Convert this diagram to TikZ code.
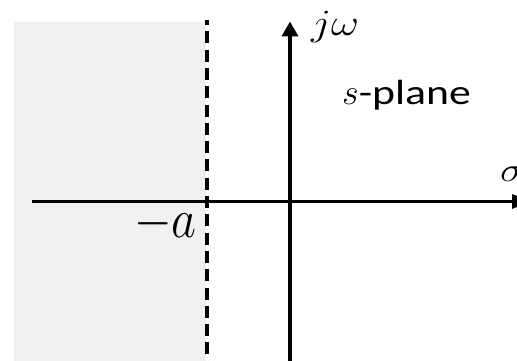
\RequirePackage{fix-cm}
\documentclass[tikz,border=0pt]{standalone}
\usepackage{fontspec}
\setmainfont{Carlito}
\usetikzlibrary{arrows.meta}
\definecolor{bgshade}{RGB}{240,240,240}
\begin{document}
\begin{tikzpicture}[x=1pt,y=-1pt,
  vaxis/.style={line width=4pt,-{Triangle[length=15pt,width=16pt]}},
  haxis/.style={line width=3pt,-{Triangle[length=19pt,width=14pt]}},
  bound/.style={line width=4pt,dash pattern=on 12pt off 6.3pt,dash phase=7pt},
  lbl/.style={inner sep=0pt,anchor=base west}]
\useasboundingbox (0,0) rectangle (517,361);
\fill[bgshade] (14,22) rectangle (206,361);
\coordinate (dtop) at (207,20);
\coordinate (dbot) at (207,361);
\draw[bound] (dtop) -- (dbot);
\coordinate (xl) at (32,201.5);
\coordinate (xr) at (531,201.5);
\coordinate (yb) at (290,361);
\coordinate (yt) at (290,21.5);
\draw[haxis] (xl) -- (xr);
\draw[vaxis] (yb) -- (yt);
\node[lbl] (jw) at (311,36) {\fontsize{37}{42}\selectfont\scalebox{1.17}[1]{$j\omega$}};
\node[lbl] (sp) at (342,105) {\fontsize{36}{40}\selectfont$s$\fontsize{35}{40}\selectfont\scalebox{1.25}[1]{-plane}};
\node[lbl] (sig) at (500,181) {\fontsize{34}{40}\selectfont\scalebox{1.2}[1]{$\sigma$}};
\node[lbl] (ma) at (134,237) {\fontsize{55}{60}\selectfont\scalebox{0.88}[1]{$-a$}};
\end{tikzpicture}
\end{document}
